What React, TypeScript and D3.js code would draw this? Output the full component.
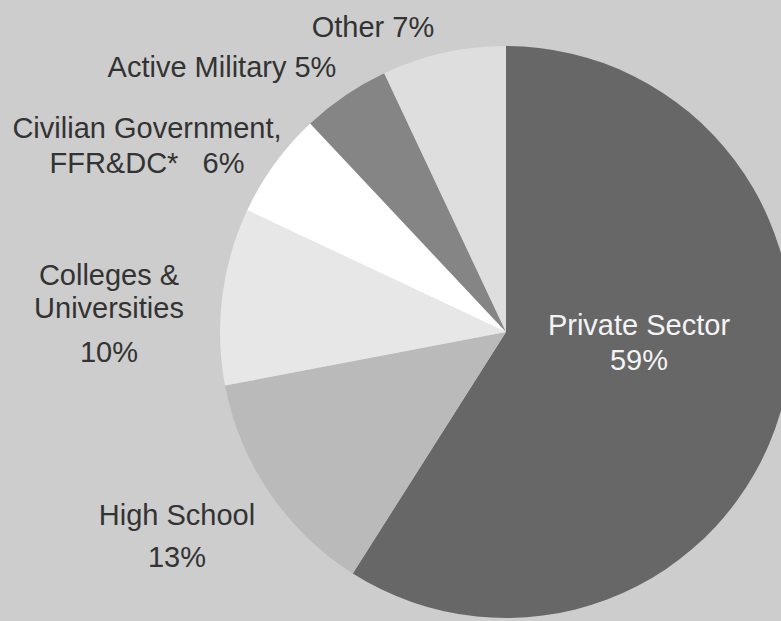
import { useEffect } from "react"
import * as d3 from "d3"

// slice data, clockwise from 12 o'clock
const categories = [
  "Private Sector",
  "High School",
  "Colleges & Universities",
  "Civilian Government, FFR&DC*",
  "Active Military",
  "Other",
]
const shares = [59, 13, 10, 6, 5, 7]
const fills = ["#676767", "#bababa", "#e7e7e7", "#ffffff", "#858585", "#dedede"]

// label lines per slice
const labelLines = [
  ["Private Sector", "59%"],
  ["High School", "13%"],
  ["Colleges &", "Universities", "10%"],
  ["Civilian Government,", "FFR&DC*   6%"],
  ["Active Military 5%"],
  ["Other 7%"],
]

const W = 781
const H = 621
const cx = 506
const cy = 332
const radius = 286

// where each label block sits (centre x, first baseline, line step)
const labelLayout = [
  { x: 639, y: 335, step: 35, color: "#f4f4f4" },
  { x: 177, y: 525, step: 42, color: "#333" },
  { x: 109, y: 285, step: 33, color: "#333", extra: [0, 0, 11] },
  { x: 147, y: 138, step: 35, color: "#333" },
  { x: 222, y: 77, step: 35, color: "#333" },
  { x: 373, y: 37, step: 35, color: "#333" },
]

export default function App() {
  useEffect(() => {
    document.body.style.margin = "0"
  }, [])

  const pie = d3
    .pie<number>()
    .sort(null)
    .startAngle(0)
    .endAngle(2 * Math.PI)
    .value((d) => d)
  const arcs = pie(shares)
  const arc = d3.arc<d3.PieArcDatum<number>>().innerRadius(0).outerRadius(radius)

  return (
    <svg width={W} height={H} style={{ display: "block" }}>
      <rect width={W} height={H} fill="#cdcdcd" />
      <g transform={`translate(${cx},${cy})`}>
        {arcs.map((a, i) => (
          <path key={categories[i]} d={arc(a) ?? ""} fill={fills[i]} />
        ))}
      </g>
      <g fontFamily="'Liberation Sans', Arial, sans-serif" fontSize={29} textAnchor="middle">
        {labelLines.map((lines, i) => {
          const lay = labelLayout[i]
          return (
            <text key={categories[i]} fill={lay.color}>
              {lines.map((ln, j) => (
                <tspan
                  key={j}
                  x={lay.x}
                  y={lay.y + j * lay.step + ((lay.extra && lay.extra[j]) || 0)}
                  style={{ whiteSpace: "pre" }}
                >
                  {ln}
                </tspan>
              ))}
            </text>
          )
        })}
      </g>
    </svg>
  )
}
